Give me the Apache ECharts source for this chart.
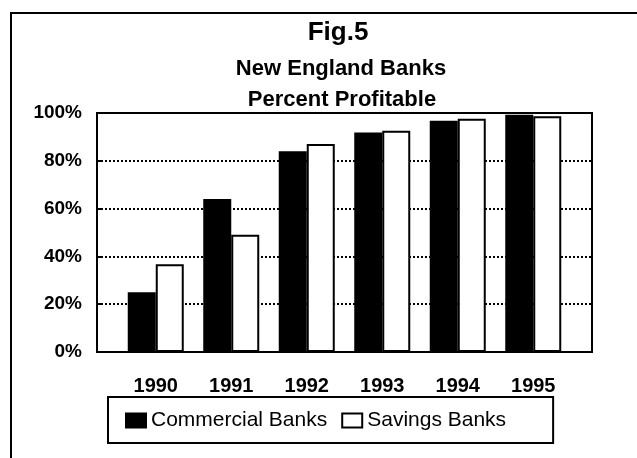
<!DOCTYPE html>
<html>
<head>
<meta charset="utf-8">
<script src="https://cdn.jsdelivr.net/npm/echarts@6/dist/echarts.min.js"></script>
<style>html,body{margin:0;padding:0;background:#fff}#c{width:637px;height:458px}</style>
</head>
<body>
<div id="c"></div>
<script>
var years = ['1990', '1991', '1992', '1993', '1994', '1995'];
var commercialBanks = [25, 64, 84, 91.8, 96.8, 99.3];
var savingsBanks = [36.7, 49.1, 87, 92.6, 97.6, 98.6];
var yTicks = [0, 20, 40, 60, 80, 100];

var FONT = '"Liberation Sans", Arial, sans-serif';
var chart = echarts.init(document.getElementById('c'), null, {renderer: 'canvas'});
chart.setOption({
  animation: false,
  backgroundColor: '#fff',
  graphic: [
    {type: 'polyline', shape: {points: [[11, 458], [11, 13], [637, 13]]}, style: {stroke: '#000', lineWidth: 2, fill: null}},
    {type: 'text', x: 338, y: 33, style: {text: 'Fig.5', font: 'bold 26px ' + FONT, fill: '#000', align: 'center', verticalAlign: 'middle'}},
    {type: 'text', x: 341, y: 69, style: {text: 'New England Banks', font: 'bold 22px ' + FONT, fill: '#000', align: 'center', verticalAlign: 'middle'}},
    {type: 'text', x: 342, y: 100, style: {text: 'Percent Profitable', font: 'bold 22px ' + FONT, fill: '#000', align: 'center', verticalAlign: 'middle'}}
  ],
  legend: {
    left: 108, top: 397,
    padding: [13, 47, 12, 17],
    borderColor: '#000', borderWidth: 2,
    itemWidth: 20, itemHeight: 14, itemGap: 14,
    icon: 'rect',
    textStyle: {fontSize: 21, color: '#000', fontFamily: FONT},
    data: ['Commercial Banks', 'Savings Banks']
  },
  grid: [
    {left: 97, right: 45, top: 113, bottom: 106, show: true, borderColor: '#000', borderWidth: 2, backgroundColor: 'transparent'},
    {left: 118, right: 66, top: 113, bottom: 106}
  ],
  xAxis: [
    {type: 'value', gridIndex: 0, show: false, min: 0, max: 1},
    {type: 'category', gridIndex: 1, data: years,
      axisLine: {show: false}, axisTick: {show: false},
      axisLabel: {fontSize: 20, fontWeight: 'bold', color: '#000', fontFamily: FONT, margin: 24}}
  ],
  yAxis: [
    {type: 'value', gridIndex: 0, min: yTicks[0], max: yTicks[yTicks.length - 1], interval: 20,
      axisLine: {show: true, lineStyle: {color: '#000', width: 2}},
      axisTick: {show: true, inside: true, length: 5, lineStyle: {color: '#000', width: 2}},
      axisLabel: {formatter: '{value}%', fontSize: 19, fontWeight: 'bold', color: '#000', fontFamily: FONT, margin: 15},
      splitLine: {show: true, showMinLine: false, showMaxLine: false, lineStyle: {color: '#000', width: 2, type: [2, 2]}}},
    {type: 'value', gridIndex: 1, min: 0, max: 100, show: false, splitLine: {show: false}}
  ],
  series: [
    {name: 'Commercial Banks', type: 'bar', xAxisIndex: 1, yAxisIndex: 1, data: commercialBanks,
      barWidth: 28, barGap: '0%',
      itemStyle: {color: '#000', borderColor: '#000', borderWidth: 1.5}},
    {name: 'Savings Banks', type: 'bar', xAxisIndex: 1, yAxisIndex: 1, data: savingsBanks,
      barWidth: 28,
      itemStyle: {color: '#fff', borderColor: '#000', borderWidth: 2}}
  ]
});
</script>
</body>
</html>
